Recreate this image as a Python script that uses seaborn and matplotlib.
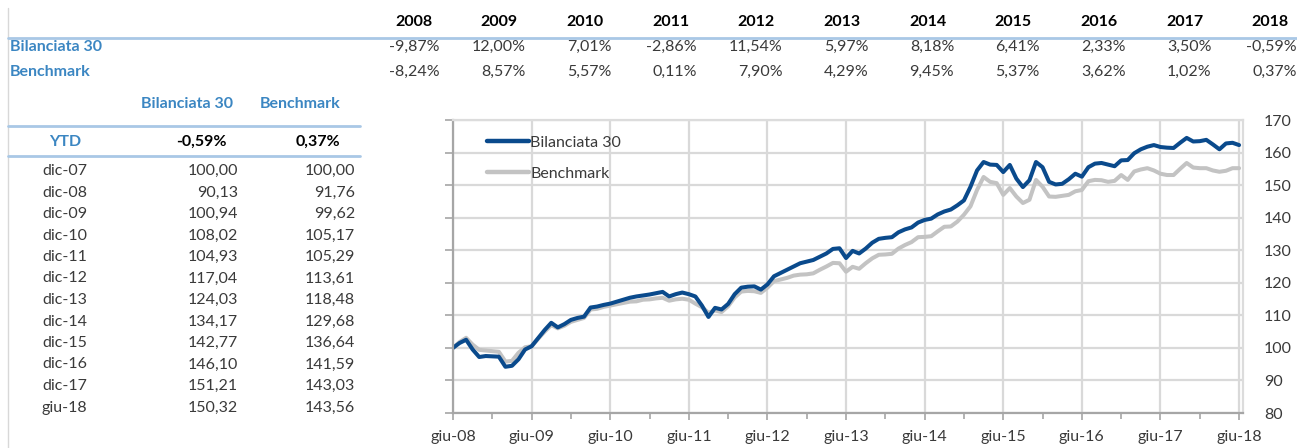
import pandas as pd
import matplotlib.pyplot as plt
import seaborn as sns
from matplotlib.lines import Line2D
from matplotlib.ticker import MultipleLocator

# dati
anni = ["2008", "2009", "2010", "2011", "2012", "2013", "2014", "2015", "2016", "2017", "2018"]
perf_fondo = ["-9,87%", "12,00%", "7,01%", "-2,86%", "11,54%", "5,97%", "8,18%", "6,41%", "2,33%", "3,50%", "-0,59%"]
perf_bench = ["-8,24%", "8,57%", "5,57%", "0,11%", "7,90%", "4,29%", "9,45%", "5,37%", "3,62%", "1,02%", "0,37%"]

ytd_fondo = "-0,59%"
ytd_bench = "0,37%"
date_tab = ["dic-07", "dic-08", "dic-09", "dic-10", "dic-11", "dic-12",
            "dic-13", "dic-14", "dic-15", "dic-16", "dic-17", "giu-18"]
val_fondo = ["100,00", "90,13", "100,94", "108,02", "104,93", "117,04",
             "124,03", "134,17", "142,77", "146,10", "151,21", "150,32"]
val_bench = ["100,00", "91,76", "99,62", "105,17", "105,29", "113,61",
             "118,48", "129,68", "136,64", "141,59", "143,03", "143,56"]

# serie mensili giu-08 .. giu-18
fondo = [100, 101.5, 102.5, 99.5, 97.2, 97.5, 97.4, 97.3, 94.2, 94.5, 96.5, 99.5,
         100.5, 103, 105.5, 107.7, 106.3, 107.3, 108.6, 109.2, 109.6, 112.4, 112.7, 113.2,
         113.6, 114.2, 114.8, 115.4, 115.8, 116.1, 116.4, 116.8, 117.2, 115.8, 116.5, 117,
         116.5, 115.8, 113, 109.5, 112.3, 111.8, 113.5, 116.5, 118.5, 118.8, 118.9, 117.9,
         119.5, 122, 123, 124, 125, 126, 126.5, 127, 128, 129, 130.4, 130.6,
         127.6, 129.8, 129, 130.5, 132.3, 133.5, 133.8, 134, 135.5, 136.4, 137, 138.5,
         139.3, 139.7, 141, 141.9, 142.5, 143.8, 145.3, 149.5, 154.5, 157.1, 156.3, 156.2,
         154, 156.2, 152, 149.4, 151.5, 157.1, 155.5, 151, 150.2, 150.4, 151.8, 153.5,
         152.6, 155.5, 156.6, 156.8, 156.3, 155.8, 157.6, 157.7, 159.8, 161, 161.8, 162.3,
         161.7, 161.5, 161.4, 163, 164.5, 163.4, 163.5, 163.9, 162.5, 161, 162.8, 163, 162.3]
bench = [100, 101.8, 103.1, 101, 99.4, 99.2, 99, 98.8, 95.8, 96, 98.5, 100.2,
         100.5, 102.8, 105, 107, 106, 106.8, 108, 108.6, 109.2, 111.8, 112, 112.6,
         113, 113.4, 113.8, 114.2, 114.3, 114.8, 114.9, 115.2, 115.4, 114.5, 114.9, 115.1,
         114.8, 113.6, 112.5, 110.8, 111.5, 111, 112.8, 115.5, 117.3, 117.5, 117.4, 116.9,
         118.5, 120.5, 121, 121.5, 122.2, 122.5, 122.6, 122.9, 124, 125, 126.1, 126,
         123.4, 124.9, 124.3, 126, 127.5, 128.6, 128.7, 128.9, 130.5, 131.6, 132.5, 134,
         134.1, 134.3, 135.8, 137.2, 137.3, 138.8, 140.9, 143.5, 148.5, 152.5, 151, 150.6,
         147, 149.1, 146.5, 144.5, 145.5, 151.6, 149.5, 146.5, 146.4, 146.7, 147, 148.1,
         148.5, 151.2, 151.6, 151.5, 151, 151.3, 153.1, 151.6, 154.2, 154.8, 155.2, 154.5,
         153.5, 153.1, 153.1, 155, 156.8, 155.4, 155.2, 155.2, 154.5, 154.1, 154.4, 155.2, 155.2]
etichette_x = ["giu-08", "giu-09", "giu-10", "giu-11", "giu-12", "giu-13",
               "giu-14", "giu-15", "giu-16", "giu-17", "giu-18"]

sns.set_style("white")
plt.rcParams['font.family'] = ['Lato', 'DejaVu Sans']

W, H = 1297, 448
fig = plt.figure(figsize=(W / 100, H / 100), dpi=100)

BLU_TXT = "#3b86c2"
GRIGIO_TXT = "#3a3a3a"
LINEA = "#a9c8e6"
FS = 11.5


def px(x, y):
    return x / W, 1 - y / H


def testo(x, y, s, **kw):
    fig.text(*px(x, y), s, va="center", **kw)


def riga(x0, x1, y, color=LINEA, lw=2):
    a, b = px(x0, y)
    c, _ = px(x1, y)
    fig.add_artist(Line2D([a, c], [b, b], transform=fig.transFigure, color=color, lw=lw))


# bordo sinistro
fig.add_artist(Line2D([px(8, 0)[0]] * 2, [px(0, 8)[1], px(0, 448)[1]],
                      transform=fig.transFigure, color="#d8d8d8", lw=1))

# tabella rendimenti annui
for i, anno in enumerate(anni):
    xr = 440 + i * 85.7
    testo(xr - 8, 22, anno, ha="right", fontsize=FS, fontweight="bold", color="black")
    testo(xr, 47, perf_fondo[i], ha="right", fontsize=FS, color=GRIGIO_TXT)
    testo(xr, 72, perf_bench[i], ha="right", fontsize=FS, color=GRIGIO_TXT)
riga(8, 1297, 38)
testo(10, 47, "Bilanciata 30", ha="left", fontsize=FS, fontweight="bold", color=BLU_TXT)
testo(10, 72, "Benchmark", ha="left", fontsize=FS, fontweight="bold", color=BLU_TXT)

# tabella valori
testo(187, 104, "Bilanciata 30", ha="center", fontsize=FS, fontweight="bold", color=BLU_TXT)
testo(300, 104, "Benchmark", ha="center", fontsize=FS, fontweight="bold", color=BLU_TXT)
riga(8, 360, 126)
testo(65, 142, "YTD", ha="center", fontsize=FS, fontweight="bold", color=BLU_TXT)
testo(227, 142, ytd_fondo, ha="right", fontsize=FS, fontweight="bold", color="black")
testo(340, 142, ytd_bench, ha="right", fontsize=FS, fontweight="bold", color="black")
riga(8, 360, 156)
for i, d in enumerate(date_tab):
    y = 171 + i * 21.5
    testo(42, y, d, ha="left", fontsize=FS, color=GRIGIO_TXT)
    testo(238, y, val_fondo[i], ha="right", fontsize=FS, color=GRIGIO_TXT)
    testo(355, y, val_bench[i], ha="right", fontsize=FS, color=GRIGIO_TXT)

# grafico
x0, y0 = px(453, 413)
x1, y1 = px(1243, 120)
ax = fig.add_axes([x0, y0, x1 - x0, y1 - y0])

df = pd.DataFrame({"mese": list(range(len(fondo))) * 2,
                   "valore": fondo + bench,
                   "serie": ["Bilanciata 30"] * len(fondo) + ["Benchmark"] * len(bench)})
sns.lineplot(data=df, x="mese", y="valore", hue="serie", ax=ax,
             palette={"Bilanciata 30": "#0a4a8c", "Benchmark": "#c3c3c3"},
             hue_order=["Benchmark", "Bilanciata 30"], linewidth=2.9, legend=False)

ax.set_xlim(0, len(fondo) - 0.4)
ax.set_ylim(80, 170)
ax.set_xlabel("")
ax.set_ylabel("")
ax.set_xticks([i * 12 for i in range(len(etichette_x))])
ax.set_xticklabels(etichette_x)
ax.xaxis.set_minor_locator(MultipleLocator(6))
ax.yaxis.set_major_locator(MultipleLocator(10))
ax.grid(True, which="major", color="#d9d9d9", lw=1.6)
ax.set_axisbelow(True)

ax.tick_params(axis="x", which="major", direction="out", length=5, width=1.2, color="#a6a6a6",
               bottom=True, pad=7, labelsize=FS, labelcolor=GRIGIO_TXT)
ax.tick_params(axis="x", which="minor", direction="out", length=4, width=1.2, color="#a6a6a6", bottom=True)
ax.tick_params(axis="y", direction="out", length=6, width=1.2, color="#a6a6a6",
               left=True, right=False, labelleft=False, labelright=True, pad=9,
               labelsize=FS, labelcolor=GRIGIO_TXT)

for lato in ["left", "bottom"]:
    ax.spines[lato].set_color("#a6a6a6")
    ax.spines[lato].set_linewidth(1.6)
for lato in ["top", "right"]:
    ax.spines[lato].set_color("#dcdcdc")
    ax.spines[lato].set_linewidth(1.6)

maniglie = [Line2D([], [], color="#0a4a8c", lw=3.2), Line2D([], [], color="#c3c3c3", lw=3.2)]
ax.legend(maniglie, ["Bilanciata 30", "Benchmark"], loc="upper left", frameon=False,
          bbox_to_anchor=(0.025, 0.995), handlelength=2.6, handletextpad=0.1,
          labelspacing=1.05, fontsize=FS, labelcolor=GRIGIO_TXT)

fig.savefig("out.png", dpi=100)
